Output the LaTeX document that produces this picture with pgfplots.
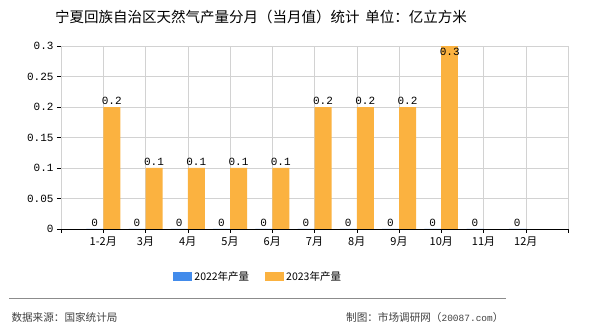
\documentclass[border=0pt]{standalone}
\usepackage{pgfplots}
\pgfplotsset{compat=1.18}
\usepackage{fontspec}
\setmainfont{Noto Sans CJK SC}
\newfontfamily\numfont{Liberation Mono}
\definecolor{c22}{RGB}{66,139,235}
\definecolor{c23}{RGB}{251,178,64}
\definecolor{gridc}{RGB}{210,210,210}
\begin{document}
\begin{tikzpicture}
\path[use as bounding box] (0,0) rectangle (590bp,330bp);
\node[font=\fontsize{14.5bp}{16bp}\selectfont] at (261bp,313bp) {宁夏回族自治区天然气产量分月（当月值）统计\hspace{6bp}单位：亿立方米};
\begin{axis}[
  at={(61bp,101bp)}, anchor=south west,
  scale only axis, width=507bp, height=183bp,
  xmin=-1, xmax=11, ymin=0, ymax=0.3,
  axis lines*=left,
  axis line style={black, thick, -},
  xtick={0,1,2,3,4,5,6,7,8,9,10},
  xticklabels={1-2月,3月,4月,5月,6月,7月,8月,9月,10月,11月,12月},
  extra x ticks={-1,11}, extra x tick labels={,},
  extra x tick style={grid=major},
  ytick={0,0.05,0.1,0.15,0.2,0.25,0.3},
  yticklabels={0,0.05,0.1,0.15,0.2,0.25,0.3},
  tick style={black, thin},
  tick align=outside,
  major tick length=4bp,
  xmajorgrids, ymajorgrids,
  grid style={gridc, thin},
  ticklabel style={font=\fontsize{11bp}{13bp}\selectfont},
  yticklabel style={font=\numfont\fontsize{11bp}{13bp}\selectfont},
  ybar=0pt, bar width=17bp,
  enlargelimits=false,
  clip=false,
  legend style={at={(0.389,-0.262)}, anchor=center, draw=none, legend columns=2,
    font=\fontsize{10.5bp}{13bp}\selectfont,
    /tikz/every even column/.append style={column sep=14bp}},
  legend image code/.code={\fill[#1] (0bp,-4.5bp) rectangle (19bp,4.5bp);},
  nodes near coords={\pgfmathprintnumber[assume math mode=true]{\pgfplotspointmeta}},
  every node near coord/.append style={font=\numfont\fontsize{11bp}{13bp}\selectfont, black, inner sep=2bp},
]
\addplot[fill=c22, draw=none] coordinates {(0,0) (1,0) (2,0) (3,0) (4,0) (5,0) (6,0) (7,0) (8,0) (9,0) (10,0)};
\addlegendentry{2022年产量}
\addplot[fill=c23, draw=none] coordinates {(0,0.2) (1,0.1) (2,0.1) (3,0.1) (4,0.1) (5,0.2) (6,0.2) (7,0.2)};
\addlegendentry{2023年产量}
\addplot[fill=c23, draw=none, forget plot, bar shift=8.5bp, nodes near coords style={anchor=north}] coordinates {(8,0.3)};
\end{axis}
\draw[gray!90, thick] (9bp,32bp) -- (506bp,32bp);
\node[anchor=west, text=black!75, font=\fontsize{10.6bp}{13bp}\selectfont] at (8bp,13bp) {数据来源：国家统计局};
\node[anchor=east, text=black!75, font=\fontsize{10.6bp}{13bp}\selectfont] at (507bp,13bp) {制图：市场调研网（{\numfont\fontsize{9.5bp}{13bp}\selectfont 20087.com}）};
\end{tikzpicture}
\end{document}
